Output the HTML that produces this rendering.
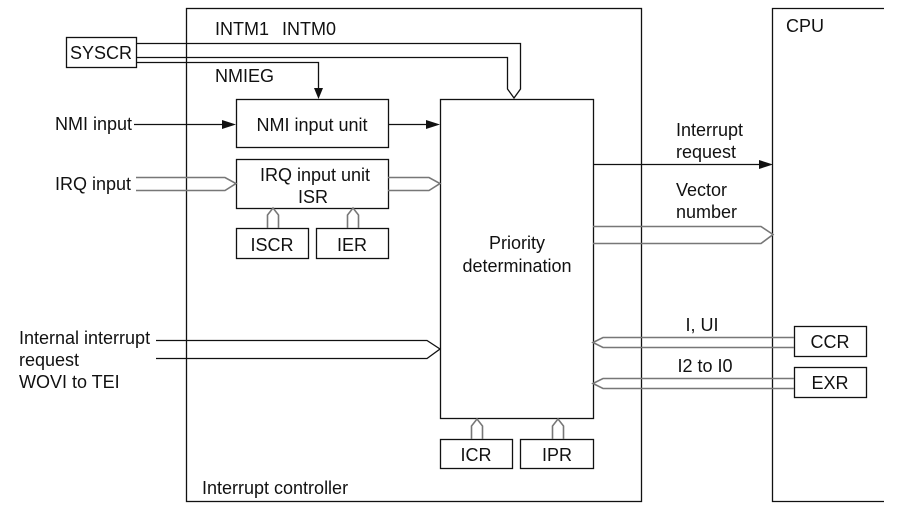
<!DOCTYPE html>
<html><head><meta charset="utf-8"><style>
html,body{margin:0;padding:0;background:#fff;}
svg{display:block;}
text{font-family:"Liberation Sans",Arial,sans-serif;font-size:18px;fill:#111;}
</style></head><body>
<svg width="904" height="519" viewBox="0 0 904 519" xmlns="http://www.w3.org/2000/svg">
<g fill="none" stroke="#111" stroke-width="1.3">
<rect x="186.5" y="8.5" width="455" height="493"/>
<polyline points="884,8.5 772.5,8.5 772.5,501.5 884,501.5"/>
<rect x="66.5" y="37.5" width="70" height="30"/>
<rect x="236.5" y="99.5" width="152" height="48"/>
<rect x="236.5" y="159.5" width="152" height="49"/>
<rect x="236.5" y="228.5" width="72" height="30"/>
<rect x="316.5" y="228.5" width="72" height="30"/>
<rect x="440.5" y="99.5" width="153" height="319"/>
<rect x="440.5" y="439.5" width="72" height="29"/>
<rect x="520.5" y="439.5" width="73" height="29"/>
<rect x="794.5" y="326.5" width="72" height="30"/>
<rect x="794.5" y="367.5" width="72" height="30"/>
<polyline points="136,43.5 520.5,43.5 520.5,89 514,98 507.5,89 507.5,57.5 136,57.5"/>
<polyline points="136,62.5 318.5,62.5 318.5,90"/>
<line x1="134" y1="124.5" x2="226" y2="124.5"/>
<line x1="388" y1="124.5" x2="430" y2="124.5"/>
<line x1="593" y1="164.5" x2="762" y2="164.5"/>
</g>
<g fill="#111">
<polygon points="318.5,99 314,88 323,88"/>
<polygon points="236,124.5 222,120 222,129"/>
<polygon points="440,124.5 426,120 426,129"/>
<polygon points="773,164.5 759,160 759,169"/>
</g>
<g fill="none" stroke="#777" stroke-width="1.6">
<polyline points="136,177.5 225,177.5 236,183.5 225,190.5 136,190.5"/>
<polyline points="388,177.5 429,177.5 440,183.5 429,190.5 388,190.5"/>
<polyline points="267.5,228 267.5,215 273,208 278.5,215 278.5,228"/>
<polyline points="347.5,228 347.5,215 353,208 358.5,215 358.5,228"/>
<polyline points="471.5,439 471.5,426 477,419 482.5,426 482.5,439"/>
<polyline points="552.5,439 552.5,426 558,419 563.5,426 563.5,439"/>
<polyline points="593,226.5 761,226.5 773,234.5 761,243.5 593,243.5"/>
<polyline points="794,337.5 603,337.5 593,342.5 603,347.5 794,347.5"/>
<polyline points="794,378.5 603,378.5 593,383.5 603,388.5 794,388.5"/>
</g>
<g fill="none" stroke="#111" stroke-width="1.3">
<polyline points="156,340.5 427,340.5 440,349 427,358.5 156,358.5"/>
</g>
<text x="215" y="35">INTM1</text><text x="282" y="35">INTM0</text>
<text x="101" y="59" text-anchor="middle">SYSCR</text>
<text x="215" y="82">NMIEG</text>
<text x="55" y="130">NMI input</text>
<text x="312" y="131" text-anchor="middle">NMI input unit</text>
<text x="55" y="190">IRQ input</text>
<text x="315" y="181" text-anchor="middle">IRQ input unit</text>
<text x="313" y="203" text-anchor="middle">ISR</text>
<text x="272" y="251" text-anchor="middle">ISCR</text>
<text x="352" y="251" text-anchor="middle">IER</text>
<text x="517" y="249" text-anchor="middle">Priority</text>
<text x="517" y="272" text-anchor="middle">determination</text>
<text x="676" y="136">Interrupt</text>
<text x="676" y="158">request</text>
<text x="676" y="196">Vector</text>
<text x="676" y="218">number</text>
<text x="786" y="32">CPU</text>
<text x="19" y="344">Internal interrupt</text>
<text x="19" y="366">request</text>
<text x="19" y="388">WOVI to TEI</text>
<text x="702" y="331" text-anchor="middle">I, UI</text>
<text x="705" y="372" text-anchor="middle">I2 to I0</text>
<text x="830" y="348" text-anchor="middle">CCR</text>
<text x="830" y="389" text-anchor="middle">EXR</text>
<text x="476" y="461" text-anchor="middle">ICR</text>
<text x="557" y="461" text-anchor="middle">IPR</text>
<text x="202" y="494">Interrupt controller</text>
</svg>
</body></html>
